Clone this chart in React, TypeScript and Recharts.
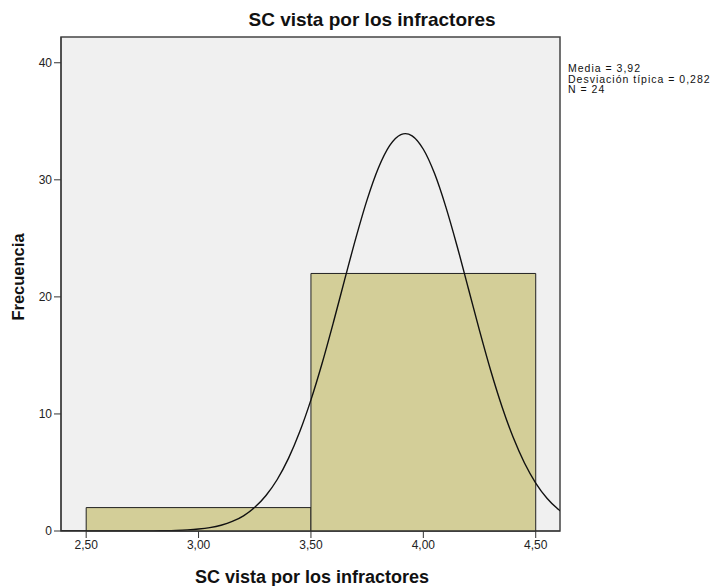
import React from "react";
import {
  ComposedChart,
  Line,
  XAxis,
  YAxis,
  ReferenceArea,
} from "recharts";

// histogram bins
const binStarts = [2.5, 3.5];
const binEnds = [3.5, 4.5];
const binCounts = [2, 22];

// fitted normal curve
const curveX = [
  2.388, 2.45, 2.5, 2.55, 2.6, 2.65, 2.7, 2.75, 2.8, 2.85, 2.9, 2.95, 3.0, 3.05, 3.1,
  3.15, 3.2, 3.25, 3.3, 3.35, 3.4, 3.45, 3.5, 3.55, 3.6, 3.65, 3.7, 3.75, 3.8,
  3.85, 3.9, 3.92, 3.95, 4.0, 4.05, 4.1, 4.15, 4.2, 4.25, 4.3, 4.35, 4.4, 4.45,
  4.5, 4.55, 4.6, 4.608,
];
const curveY = [
  0, 0, 0, 0, 0, 0, 0.001, 0.004, 0.012, 0.025, 0.049, 0.092, 0.166, 0.291, 0.495,
  0.816, 1.3, 2.02, 3.03, 4.4, 6.2, 8.47, 11.2, 14.35, 17.83, 21.47, 25.04,
  28.31, 31.01, 32.92, 33.86, 33.95, 33.76, 32.61, 30.53, 27.69, 24.35, 20.74,
  17.12, 13.69, 10.62, 7.98, 5.81, 4.1, 2.8, 1.85, 1.72,
];

const yTicks = [0, 10, 20, 30, 40];
const xTicks = [2.5, 3.0, 3.5, 4.0, 4.5];
const xDomain = [2.388, 4.608];
const yDomain = [0, 42.2];

const statLines = ["Media = 3,92", "Desviación típica = 0,282", "N = 24"];

const FONT = "Arial, 'Liberation Sans', sans-serif";

const curveData = curveX.map((x, i) => ({ x, y: curveY[i] }));

export default function App() {
  return (
    <div
      style={{
        position: "absolute",
        left: 0,
        top: 0,
        width: 716,
        height: 586,
        background: "#fff",
        fontFamily: FONT,
      }}
    >
      <div
        style={{
          position: "absolute",
          top: 9,
          left: 0,
          width: 744,
          textAlign: "center",
          fontSize: 19,
          fontWeight: "bold",
          color: "#111",
        }}
      >
        SC vista por los infractores
      </div>
      <div
        style={{
          position: "absolute",
          left: 568,
          top: 63,
          fontSize: 10.5,
          lineHeight: "10.5px",
          letterSpacing: 1,
          color: "#111",
          whiteSpace: "nowrap",
        }}
      >
        {statLines.map((s) => (
          <div key={s}>{s}</div>
        ))}
      </div>
      <ComposedChart
        width={716}
        height={586}
        data={curveData}
        margin={{ top: 37, right: 156, bottom: 0, left: 0 }}
        style={{ position: "absolute", left: 0, top: 0 }}
      >
        <XAxis
          dataKey="x"
          type="number"
          domain={xDomain}
          allowDataOverflow
          ticks={xTicks}
          tickSize={7}
          height={55}
          stroke="#333"
          tick={{ fill: "#222", fontSize: 12, fontFamily: FONT }}
          tickFormatter={(v: number) => v.toFixed(2).replace(".", ",")}
          label={{
            content: () => (
              <text
                x={312}
                y={583}
                textAnchor="middle"
                fontSize={18}
                fontWeight="bold"
                fill="#111"
                fontFamily={FONT}
              >
                SC vista por los infractores
              </text>
            ),
          }}
        />
        <YAxis
          type="number"
          domain={yDomain}
          allowDataOverflow
          ticks={yTicks}
          tickSize={7}
          width={61}
          stroke="#333"
          tick={{ fill: "#222", fontSize: 12, fontFamily: FONT }}
          label={{
            content: () => (
              <text
                x={24}
                y={277}
                transform="rotate(-90 24 277)"
                textAnchor="middle"
                fontSize={16.5}
                fontWeight="bold"
                fill="#111"
                fontFamily={FONT}
              >
                Frecuencia
              </text>
            ),
          }}
        />
        <ReferenceArea
          x1={xDomain[0]}
          x2={xDomain[1]}
          y1={yDomain[0]}
          y2={yDomain[1]}
          fill="#f0f0f0"
          fillOpacity={1}
          stroke="#444"
          strokeWidth={1.5}
        />
        {binStarts.map((start, i) => (
          <ReferenceArea
            key={start}
            x1={start}
            x2={binEnds[i]}
            y1={0}
            y2={binCounts[i]}
            fill="#d3ce98"
            fillOpacity={1}
            stroke="#222"
            strokeWidth={1}
          />
        ))}
        <Line
          dataKey="y"
          type="monotone"
          stroke="#111"
          strokeWidth={1.4}
          dot={false}
          activeDot={false}
          isAnimationActive={false}
        />
      </ComposedChart>
    </div>
  );
}
